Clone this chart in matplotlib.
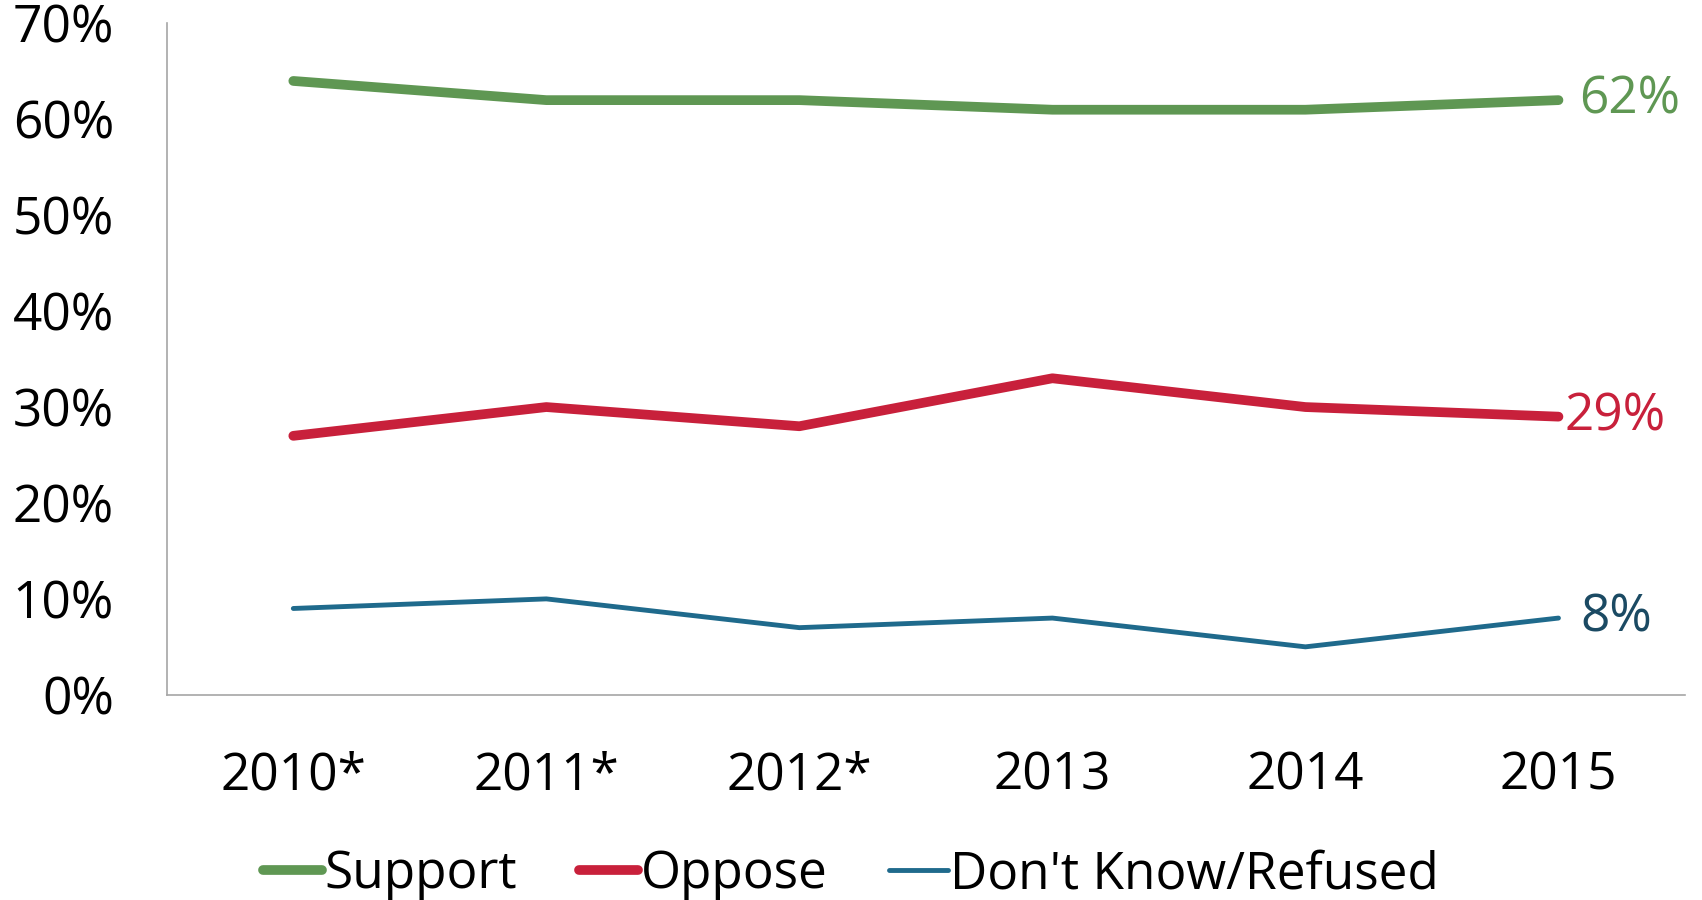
import matplotlib
matplotlib.use('Agg')
import matplotlib.pyplot as plt
import matplotlib.ticker as mticker

years = ['2010*', '2011*', '2012*', '2013', '2014', '2015']
support = [64, 62, 62, 61, 61, 62]
oppose = [27, 30, 28, 33, 30, 29]
dont_know = [9, 10, 7, 8, 5, 8]

plt.rcParams['font.family'] = ['Open Sans', 'DejaVu Sans']
FS = 37

fig = plt.figure(figsize=(17.02, 9.0), dpi=100)
ax = fig.add_axes([0.098, 0.228, 0.892, 0.746])

x = range(len(years))
green, red, blue = '#5f9753', '#c8203b', '#1f6a8c'

ax.plot(x, support, color=green, linewidth=7, solid_capstyle='round', label='Support')
ax.plot(x, oppose, color=red, linewidth=7, solid_capstyle='round', label='Oppose')
ax.plot(x, dont_know, color=blue, linewidth=3.5, solid_capstyle='round', label="Don't Know/Refused")

# end labels
ax.annotate(f'{support[-1]}%', (x[-1], support[-1]), xytext=(15, 0), textcoords='offset points',
            va='center', ha='left', fontsize=FS, color=green)
ax.annotate(f'{oppose[-1]}%', (x[-1], oppose[-1]), xytext=(4, 0), textcoords='offset points',
            va='center', ha='left', fontsize=FS, color=red)
ax.annotate(f'{dont_know[-1]}%', (x[-1], dont_know[-1]), xytext=(16, 0), textcoords='offset points',
            va='center', ha='left', fontsize=FS, color='#1b4a63')

ax.set_xlim(-0.5, 5.5)
ax.set_ylim(0, 70)
ax.yaxis.set_major_locator(mticker.MultipleLocator(10))
ax.yaxis.set_major_formatter(mticker.FuncFormatter(lambda v, p: f'{int(v)}%'))
ax.set_xticks(list(x))
ax.set_xticklabels(years)
ax.tick_params(axis='both', length=0, labelsize=FS)
ax.tick_params(axis='y', pad=38)
ax.tick_params(axis='x', pad=40)

for s in ['top', 'right']:
    ax.spines[s].set_visible(False)
for s in ['left', 'bottom']:
    ax.spines[s].set_color('#a6a6a6')
    ax.spines[s].set_linewidth(1.2)

leg = fig.legend(loc='center', bbox_to_anchor=(0.5, 0.028), ncol=3, frameon=False,
                 fontsize=FS, handlelength=1.15, handletextpad=0.05, columnspacing=1.2)

fig.savefig('out.png', dpi=100)
